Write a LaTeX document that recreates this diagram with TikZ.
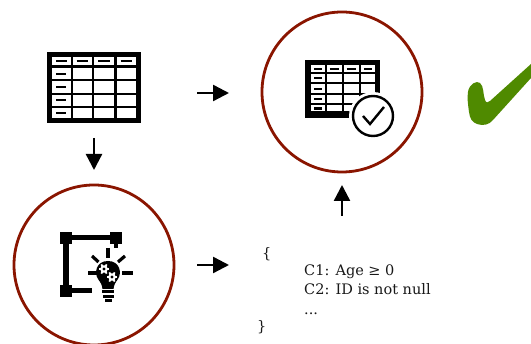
\documentclass[tikz,border=0pt]{standalone}
\usepackage{fontspec}
\setmainfont{DejaVu Serif}
\usetikzlibrary{arrows.meta}
\definecolor{ringred}{HTML}{8A1500}
\definecolor{checkgreen}{HTML}{4F8A00}
\tikzset{
  ring/.style={circle,draw=ringred,line width=2.8pt,minimum size=160pt,inner sep=0pt},
  flow/.style={-{Triangle[length=16pt,width=16pt]},line width=2.4pt,black},
  txt/.style={font=\fontsize{14.5}{16}\selectfont,anchor=base west,inner sep=0pt,text=black!90},
  corner/.style={fill=black,minimum size=12pt,inner sep=0pt},
  ray/.style={line width=3.2pt,black},
  mini/.style={line width=2.2pt,black}
}
\newcommand{\gearshape}[3]{%
  \fill[white] (#1,#2) circle (#3pt);
  \foreach \a in {0,60,...,300}{\draw[white,line width=1.8pt] (#1,#2) -- ++(\a:#3*1.4pt);}
  \fill[black] (#1,#2) circle (#3*0.42pt);
}
\begin{document}
\begin{tikzpicture}[x=1pt,y=-1pt]
\useasboundingbox (0,0) rectangle (531,344);
\fill[white] (0,0) rectangle (531,344);
% source table
\fill[black] (47,52) rectangle (141,123);
\foreach \xa/\xb in {52/71,72.5/92,94/114,116.5/135.5}{
  \foreach \ya/\yb in {57/65,68/79.5,81.5/93,95/106.5,108.5/118}{
    \fill[white] (\xa,\ya) rectangle (\xb,\yb);
  }
  \draw[mini] (\xa+4,61) -- (\xb-4,61);
}
\foreach \y in {74,87,100,113}{\draw[mini] (56,\y) -- (66,\y);}
% validated table
\node[ring] (top) at (342,92) {};
\fill[black] (305,60) rectangle (380,118);
\foreach \xa/\xb in {311/325,326.5/342,343.5/359,361/375}{
  \foreach \ya/\yb in {65/72.5,74/82.5,84.5/93,95/103,105/111.5}{
    \fill[white] (\xa,\ya) rectangle (\xb,\yb);
  }
  \draw[mini] (\xa+3,68.8) -- (\xb-3,68.8);
}
\foreach \y in {78,89,99,108.5}{\draw[mini] (314,\y) -- (322,\y);}
\fill[white] (373,116) circle (24);
\node[circle,draw=black,line width=2.4pt,fill=white,minimum size=40pt,inner sep=0pt] (seal) at (373,116) {};
\draw[line width=2.4pt,black] (363,116) -- (370,124) -- (384,107);
% bottom circle
\node[ring] (bottom) at (94,265) {};
\draw[line width=6pt,black] (66,238) -- (66,291);
\draw[line width=5pt,black] (66,238) -- (116,238);
\draw[line width=5pt,black] (66,291) -- (92,291);
\draw[line width=3.5pt,black] (116,238) -- (116,248);
\node[corner] (c1) at (66,238) {};
\node[corner] (c2) at (116,238) {};
\node[corner] (c3) at (66,291) {};
% bulb
\fill[black] (98,279) .. controls (94,273) and (96,261) .. (108,261)
  .. controls (120,261) and (122,273) .. (118,279)
  .. controls (115,283) and (114,285) .. (113.5,289) -- (102.5,289)
  .. controls (102,285) and (101,283) .. (98,279) -- cycle;
\fill[black] (102,290.5) rectangle (114,293.5);
\fill[black] (102.5,295) rectangle (113.5,298);
\fill[black] (104.5,299.5) rectangle (111.5,302);
\draw[ray] (108,248) -- (108,258);
\draw[ray] (92,256) -- (98.5,262);
\draw[ray] (125,256) -- (118,262);
\draw[ray] (88,273) -- (97,273);
\draw[ray] (122,273) -- (133,273);
\gearshape{104}{269}{3.8}
\gearshape{112}{277}{3.8}
% flow arrows
\coordinate (a1s) at (197,93); \coordinate (a1e) at (229,93);
\coordinate (a2s) at (94,138); \coordinate (a2e) at (94,170);
\coordinate (a3s) at (197,265); \coordinate (a3e) at (229,265);
\coordinate (a4s) at (342,216); \coordinate (a4e) at (342,185);
\draw[flow] (a1s) -- (a1e);
\draw[flow] (a2s) -- (a2e);
\draw[flow] (a3s) -- (a3e);
\draw[flow] (a4s) -- (a4e);
% constraint text
\node[txt] (t1) at (262,259) {\{};
\node[txt] (t2) at (304,276) {C1: Age ≥ 0};
\node[txt] (t3) at (304,295) {C2: ID is not null};
\node[txt] (t4) at (304,315) {...};
\node[txt] (t5) at (257,332) {\}};
% check mark
\fill[checkgreen] (468,92) .. controls (469,84) and (477,80) .. (480,83)
  .. controls (484,86) and (483,95) .. (485,100)
  .. controls (486,103) and (488,103) .. (490,101)
  -- (531,64) -- (531,78) -- (493,120)
  .. controls (489,125) and (483,126) .. (477,124)
  .. controls (472,122) and (470,119) .. (469,112)
  .. controls (468,104) and (467,98) .. (468,92) -- cycle;
\end{tikzpicture}
\end{document}
